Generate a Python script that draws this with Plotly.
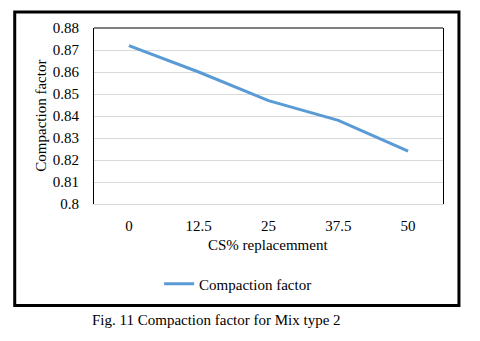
import plotly.graph_objects as go

categories = ["0", "12.5", "25", "37.5", "50"]
compaction = [0.872, 0.860, 0.847, 0.838, 0.824]
y_ticks = [0.80, 0.81, 0.82, 0.83, 0.84, 0.85, 0.86, 0.87, 0.88]
y_ticktext = ["0.8", "0.81", "0.82", "0.83", "0.84", "0.85", "0.86", "0.87", "0.88"]

W, H = 480, 341
L, R, T, B = 93.5, 443.5, 28, 204
pw, ph = R - L, B - T

def px(x):
    return (x - L) / pw

def py(y):
    return (B - y) / ph

FONT = "Times New Roman, Liberation Serif, serif"
FS = 15

fig = go.Figure()
fig.add_trace(go.Scatter(
    x=categories, y=compaction, mode="lines", name="Compaction factor",
    line=dict(color="#5B9BD5", width=3),
))

fig.update_layout(
    width=W, height=H,
    margin=dict(l=L, r=W - R, t=T, b=H - B, pad=0),
    paper_bgcolor="white", plot_bgcolor="white",
    font=dict(family=FONT, size=FS, color="#000000"),
    showlegend=True,
    legend=dict(orientation="h", x=px(238), xanchor="center", y=py(284), yanchor="middle",
                font=dict(family=FONT, size=FS, color="#000"), itemwidth=30,
                bgcolor="rgba(0,0,0,0)"),
    xaxis=dict(type="category", range=[-0.5, 4.5], showgrid=False,
               showline=True, linecolor="#D9D9D9", linewidth=1,
               ticks="outside", ticklen=8, tickcolor="rgba(0,0,0,0)",
               tickfont=dict(family=FONT, size=FS, color="#000"), fixedrange=True),
    yaxis=dict(range=[0.80, 0.88], tickvals=y_ticks, ticktext=y_ticktext,
               showgrid=True, gridcolor="#D9D9D9", gridwidth=1,
               showline=True, linecolor="#000000", linewidth=1, mirror=True,
               zeroline=False, ticks="outside", ticklen=11, tickcolor="rgba(0,0,0,0)",
               tickfont=dict(family=FONT, size=FS, color="#000"), fixedrange=True),
    shapes=[
        dict(type="line", xref="paper", yref="paper", x0=0, x1=1, y0=1, y1=1,
             line=dict(color="#000", width=1)),
        dict(type="rect", xref="paper", yref="paper",
             x0=px(14), x1=px(459.5), y0=py(305.5), y1=py(12),
             line=dict(color="#000", width=3)),
    ],
    annotations=[
        dict(text="Compaction factor", xref="paper", yref="paper", x=px(40), y=py(116),
             textangle=-90, showarrow=False, xanchor="center", yanchor="middle",
             font=dict(family=FONT, size=FS, color="#000")),
        dict(text="CS% replacemment", xref="paper", yref="paper", x=px(268), y=py(245),
             showarrow=False, xanchor="center", yanchor="middle",
             font=dict(family=FONT, size=FS, color="#000")),
        dict(text="Fig. 11 Compaction factor for Mix type 2", xref="paper", yref="paper",
             x=px(216), y=py(320), showarrow=False, xanchor="center", yanchor="middle",
             font=dict(family=FONT, size=FS, color="#000")),
    ],
)

fig.write_html("out.html")
